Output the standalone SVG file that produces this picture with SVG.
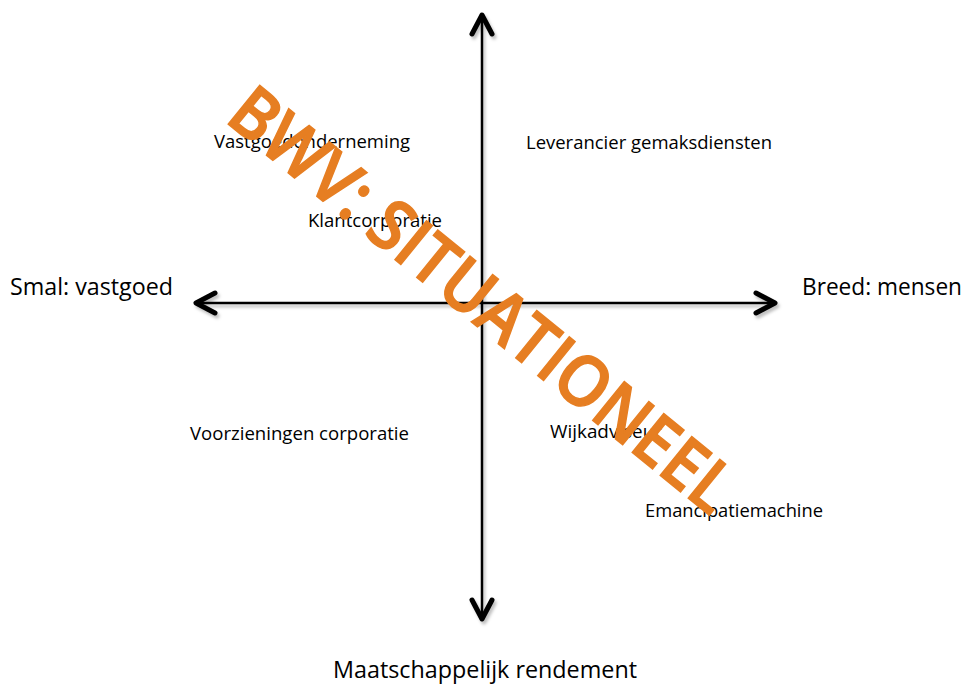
<svg xmlns="http://www.w3.org/2000/svg" width="968" height="685" viewBox="0 0 968 685">
  <defs>
    <filter id="shadow" x="-10%" y="-10%" width="120%" height="120%">
      <feDropShadow dx="2" dy="3" stdDeviation="1.5" flood-color="#000" flood-opacity="0.25"/>
    </filter>
  </defs>
  <style>
    .axis { stroke: #000; stroke-width: 2.5; fill: none; }
    .head { stroke: #000; stroke-width: 5; fill: none; stroke-linecap: round; stroke-linejoin: round; }
    .big { font-family: "Open Sans", "Liberation Sans", sans-serif; font-size: 24px; fill: #000; }
    .lbl { font-family: "Open Sans", "Liberation Sans", sans-serif; font-size: 18px; fill: #000; }
    .wm { font-family: "Open Sans", "Liberation Sans", sans-serif; font-size: 70px; font-weight: 600; fill: #E67E22; stroke: #E67E22; stroke-width: 1.5; }
  </style>
  <rect width="968" height="685" fill="#fff"/>
  <g id="connectors" filter="url(#shadow)">
    <line class="axis" x1="482" y1="16" x2="482" y2="618"/>
    <line class="axis" x1="198" y1="303" x2="773" y2="303"/>
    <polyline class="head" points="472,34 482,15 492,34"/>
    <polyline class="head" points="472,600 482,619 492,600"/>
    <polyline class="head" points="215,293 196,303 215,313"/>
    <polyline class="head" points="756,293 775,303 756,313"/>
  </g>
  <g id="axis-left"><text class="big" x="10" y="295" textLength="163" lengthAdjust="spacingAndGlyphs">Smal: vastgoed</text></g>
  <g id="axis-right"><text class="big" x="802" y="295" textLength="160" lengthAdjust="spacingAndGlyphs">Breed: mensen</text></g>
  <g id="axis-bottom"><text class="big" x="333" y="678" textLength="304" lengthAdjust="spacingAndGlyphs">Maatschappelijk rendement</text></g>
  <g id="n-vastgoed"><text class="lbl" x="214" y="148" textLength="196" lengthAdjust="spacingAndGlyphs">Vastgoedonderneming</text></g>
  <g id="n-klant"><text class="lbl" x="308" y="227" textLength="134" lengthAdjust="spacingAndGlyphs">Klantcorporatie</text></g>
  <g id="n-leverancier"><text class="lbl" x="526" y="149" textLength="246" lengthAdjust="spacingAndGlyphs">Leverancier gemaksdiensten</text></g>
  <g id="n-voorzieningen"><text class="lbl" x="190" y="440" textLength="219" lengthAdjust="spacingAndGlyphs">Voorzieningen corporatie</text></g>
  <g id="n-wijk"><text class="lbl" x="550" y="438" textLength="112" lengthAdjust="spacingAndGlyphs">Wijkadviseur</text></g>
  <g id="n-emancipatie"><text class="lbl" x="645" y="517" textLength="178" lengthAdjust="spacingAndGlyphs">Emancipatiemachine</text></g>
  <g id="watermark" transform="translate(483,299) rotate(39.1)">
    <text class="wm" x="0" y="25" text-anchor="middle" textLength="628" lengthAdjust="spacingAndGlyphs">BWV: SITUATIONEEL</text>
  </g>
</svg>
